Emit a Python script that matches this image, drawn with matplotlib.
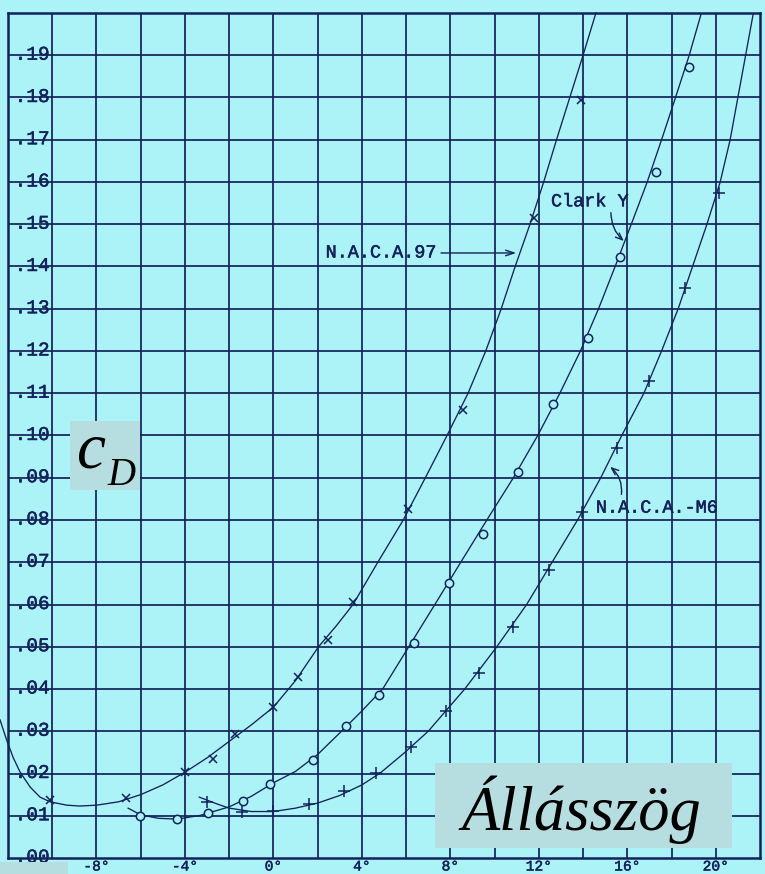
import matplotlib
matplotlib.use("Agg")
import matplotlib.pyplot as plt
from matplotlib.patches import Rectangle
import matplotlib.patheffects as pe
from matplotlib.transforms import blended_transform_factory

# ---------------- data ----------------
# N.A.C.A. 97 : measured points (x markers) and faired curve
naca97_alpha = [-10.1, -6.66, -3.99, -2.72, -1.72, 0.0, 1.13, 2.49, 3.62, 6.07, 8.56, 11.78, 13.9]
naca97_cd = [0.0137, 0.0142, 0.0204, 0.0234, 0.0293, 0.0357, 0.0428, 0.0516, 0.0606, 0.0826, 0.106, 0.1515, 0.1794]
naca97_curve_alpha = [-12.36, -12.06, -11.76, -11.46, -11.0, -10.55, -10.1, -9.34, -8.76, -8.0, -7.0,
                      -6.0, -5.0, -4.0, -3.0, -2.0, -1.0, 0.0, 1.0, 2.04, 2.85, 3.6, 4.72, 5.87, 6.87,
                      7.85, 8.8, 9.6, 10.3, 10.93, 11.6, 12.22, 12.8, 13.4, 14.0, 14.58]
naca97_curve_cd = [0.0327, 0.0279, 0.0237, 0.0204, 0.0168, 0.0144, 0.0133, 0.0125, 0.0123, 0.0125,
                   0.0133, 0.0150, 0.0173, 0.0203, 0.0237, 0.0276, 0.0315, 0.0357, 0.0420, 0.050,
                   0.055, 0.060, 0.070, 0.080, 0.090, 0.100, 0.110, 0.120, 0.130, 0.140, 0.150,
                   0.160, 0.170, 0.180, 0.190, 0.200]

# Clark Y : measured points (o markers) and faired curve
clarky_alpha = [-6.02, -4.35, -2.94, -1.36, -0.14, 1.77, 3.26, 4.76, 6.34, 7.93, 9.47, 11.05, 12.64,
                14.22, 15.67, 17.3, 18.8]
clarky_cd = [0.0100, 0.0092, 0.0107, 0.0135, 0.0175, 0.0232, 0.0312, 0.0386, 0.0509, 0.0651, 0.0767,
             0.0914, 0.1075, 0.1231, 0.1422, 0.1624, 0.1872]
clarky_curve_alpha = [-6.57, -6.0, -5.2, -4.35, -3.3, -2.0, -1.0, 0.0, 1.0, 2.0, 3.0, 4.0, 4.94, 6.12,
                      7.3, 8.47, 9.65, 10.85, 11.95, 12.95, 13.88, 14.7, 15.45, 16.18, 16.9, 17.55,
                      18.18, 18.8, 19.35]
clarky_curve_cd = [0.0118, 0.0102, 0.0094, 0.0092, 0.0101, 0.0121, 0.0146, 0.0178, 0.0205, 0.0245,
                   0.0296, 0.0348, 0.040, 0.050, 0.060, 0.070, 0.080, 0.090, 0.100, 0.110, 0.120,
                   0.130, 0.140, 0.150, 0.160, 0.170, 0.180, 0.190, 0.200]

# N.A.C.A.-M6 : measured points (+ markers) and faired curve
m6_alpha = [-3.0, -1.4, 0.0, 1.59, 3.17, 4.66, 6.2, 7.79, 9.28, 10.82, 12.45, 13.95, 15.53, 16.98,
            18.61, 20.15]
m6_cd = [0.0133, 0.0109, 0.0111, 0.0128, 0.0159, 0.0201, 0.0263, 0.0348, 0.0438, 0.0547, 0.0682,
         0.0819, 0.097, 0.1129, 0.1349, 0.1574]
m6_curve_alpha = [-3.35, -2.5, -2.0, -1.0, 0.0, 1.0, 2.0, 3.0, 4.0, 4.85, 5.9, 7.0, 8.65, 10.1, 11.45,
                  12.6, 13.75, 14.8, 15.75, 16.75, 17.55, 18.3, 18.95, 19.6, 20.2, 20.65, 21.0, 21.35,
                  21.7]
m6_curve_cd = [0.0144, 0.0127, 0.0118, 0.0110, 0.0110, 0.0118, 0.0130, 0.0148, 0.0173, 0.0202, 0.0248,
               0.030, 0.040, 0.050, 0.060, 0.070, 0.080, 0.090, 0.100, 0.110, 0.120, 0.130, 0.140,
               0.150, 0.160, 0.170, 0.180, 0.190, 0.200]

x_tick_values = [-8, -4, 0, 4, 8, 12, 16, 20]
x_tick_labels = ["-8°", "-4°", "0°", "4°", "8°", "12°", "16°", "20°"]
y_tick_values = [i / 100 for i in range(20)]
y_tick_labels = [".%02d" % i for i in range(20)]

# ---------------- styling ----------------
BG = "#acf3f7"
INK = "#13225a"
BOX = "#b6dde0"
MONO = "Liberation Mono"
SERIF = "Liberation Serif"
thick = [pe.withStroke(linewidth=0.35, foreground=INK)]

W, H = 765, 874
fig = plt.figure(figsize=(W / 100, H / 100), dpi=100, facecolor=BG)
ax = fig.add_axes([8 / W, 16 / H, 752 / W, 845 / H], facecolor=BG)
ax.set_xlim(-12, 22)
ax.set_ylim(0, 0.20)

ax.set_xticks(range(-10, 22, 2))
ax.set_yticks([i / 100 for i in range(1, 20)])
ax.tick_params(length=0, labelbottom=False, labelleft=False)
ax.grid(True, color=INK, lw=1.25)
ax.set_axisbelow(True)
for s in ax.spines.values():
    s.set_color(INK)
    s.set_linewidth(1.8)

# faired curves
ax.plot(naca97_curve_alpha, naca97_curve_cd, color=INK, lw=0.95, clip_on=False, zorder=3)
ax.plot(clarky_curve_alpha, clarky_curve_cd, color=INK, lw=0.95, zorder=3)
ax.plot(m6_curve_alpha, m6_curve_cd, color=INK, lw=0.95, zorder=3)

# measured points
ax.plot(naca97_alpha, naca97_cd, ls="none", marker="x", ms=6, mew=1.1, color=INK, zorder=4)
ax.plot(clarky_alpha, clarky_cd, ls="none", marker="o", ms=6, mew=1.1, mfc=BG, mec=INK, zorder=4)
ax.plot(m6_alpha, m6_cd, ls="none", marker="+", ms=9, mew=1.1, color=INK, zorder=4)

# y tick labels inside the frame
for v, lab in zip(y_tick_values, y_tick_labels):
    ax.text(-11.7, v, lab, family=MONO, fontsize=14, color=INK, ha="left", va="center",
            zorder=5, path_effects=thick)

# x tick labels in the narrow strip under the frame
xt = blended_transform_factory(ax.transData, fig.transFigure)
for v, lab in zip(x_tick_values, x_tick_labels):
    ax.text(v, 0.5 / H, lab, family=MONO, fontsize=10.5, color=INK, ha="center",
            va="bottom", transform=xt, clip_on=False, path_effects=thick)

# curve annotations
ax.text(2.36, 0.1432, "N.A.C.A.97", family=MONO, fontsize=13.3, color=INK, ha="left",
        va="center", path_effects=thick)
ax.annotate("", xy=(11.1, 0.1432), xytext=(7.45, 0.1432),
            arrowprops=dict(arrowstyle="->,head_length=0.6,head_width=0.2", color=INK, lw=1.0))

ax.text(12.55, 0.1553, "Clark Y", family=MONO, fontsize=13.3, color=INK, ha="left", va="center",
        path_effects=thick)
ax.annotate("", xy=(15.94, 0.1456), xytext=(15.26, 0.1534),
            arrowprops=dict(arrowstyle="->,head_length=0.5,head_width=0.2", color=INK, lw=1.0,
                            connectionstyle="arc3,rad=0.25"))

ax.text(14.58, 0.0828, "N.A.C.A.-M6", family=MONO, fontsize=13.3, color=INK, ha="left",
        va="center", path_effects=thick)
ax.annotate("", xy=(15.13, 0.0930), xytext=(15.72, 0.0854),
            arrowprops=dict(arrowstyle="->,head_length=0.5,head_width=0.2", color=INK, lw=1.0,
                            connectionstyle="arc3,rad=0.3"))

# label boxes (figure pixel coordinates)
def fbox(x0, y0, x1, y1):
    fig.add_artist(Rectangle((x0 / W, 1 - y1 / H), (x1 - x0) / W, (y1 - y0) / H,
                             transform=fig.transFigure, facecolor=BOX, edgecolor="none",
                             zorder=10))

fbox(70, 421, 140, 490)
fig.text(77 / W, 1 - 467 / H, "c", family=SERIF, style="italic", fontsize=47, color="black",
         ha="left", va="baseline", zorder=11)
fig.text(107 / W, 1 - 485 / H, "D", family=SERIF, style="italic", fontsize=28, color="black",
         ha="left", va="baseline", zorder=11)

fbox(435, 763, 732, 848)
fig.text(581 / W, 1 - 830 / H, "Állásszög", family=SERIF, style="italic", fontsize=45,
         color="black", ha="center", va="baseline", zorder=11)

fbox(0, 862, 68, 874)

fig.savefig("out.png", dpi=100, facecolor=BG)
